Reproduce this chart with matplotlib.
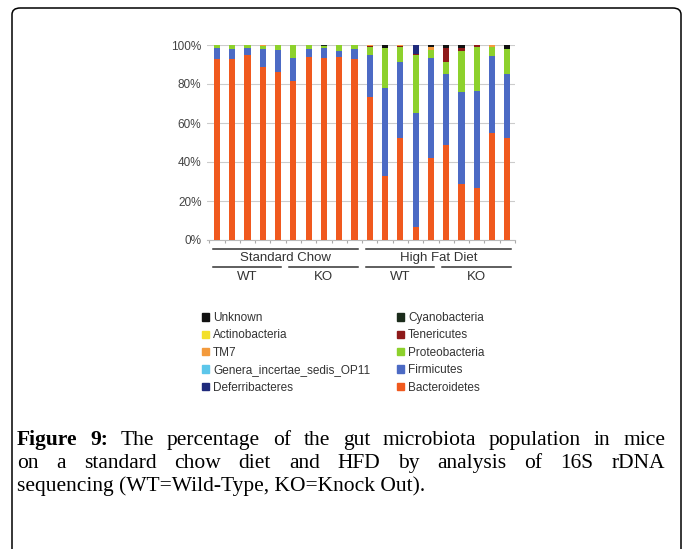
import matplotlib
matplotlib.use('Agg')
import matplotlib.pyplot as plt
from matplotlib.patches import FancyBboxPatch, Patch
import numpy as np

# valores (porcentaje por barra, 20 ratones)
bacteroidetes = [92.8, 92.6, 94.9, 88.9, 86.3, 81.6, 94.0, 93.1, 94.0, 92.6,
                 73.4, 32.8, 52.5, 6.5, 42.0, 48.5, 28.5, 26.8, 54.9, 52.5]
firmicutes = [5.5, 5.2, 3.4, 9.0, 11.1, 11.5, 3.8, 5.2, 3.0, 5.2,
              21.5, 45.4, 38.6, 58.7, 51.1, 36.4, 47.5, 49.5, 39.6, 32.4]
proteobacteria = [1.7, 2.2, 1.7, 1.6, 2.6, 6.9, 2.2, 1.2, 3.0, 2.2,
                  3.9, 20.1, 7.7, 29.7, 4.3, 6.5, 21.1, 22.5, 4.6, 13.1]
tenericutes = [0, 0, 0, 0, 0, 0, 0, 0, 0, 0,
               0.5, 0, 0.6, 0.5, 0, 6.9, 1.2, 1.2, 0, 0]
cyanobacteria = [0, 0, 0, 0, 0, 0, 0, 0.5, 0, 0,
                 0, 0, 0, 0, 0, 0, 0, 0, 0, 0]
deferribacteres = [0, 0, 0, 0, 0, 0, 0, 0, 0, 0,
                   0, 0, 0, 4.6, 0, 0, 0, 0, 0, 0]
genera_op11 = [0] * 20
tm7 = [0, 0, 0, 0.5, 0, 0, 0, 0, 0, 0,
       0.7, 0, 0.6, 0, 1.6, 0, 0, 0, 0.9, 0]
actinobacteria = [0] * 20
unknown = [0, 0, 0, 0, 0, 0, 0, 0, 0, 0,
           0, 1.7, 0, 0, 1.0, 1.7, 1.7, 0, 0, 2.0]

nombres = ['Bacteroidetes', 'Firmicutes', 'Proteobacteria', 'Tenericutes',
           'Cyanobacteria', 'Deferribacteres', 'Genera_incertae_sedis_OP11',
           'TM7', 'Actinobacteria', 'Unknown']
series = [bacteroidetes, firmicutes, proteobacteria, tenericutes, cyanobacteria,
          deferribacteres, genera_op11, tm7, actinobacteria, unknown]
colores = ['#F0591E', '#4C6AC4', '#8DD12C', '#8E1A1A', '#1B2C1B',
           '#1F2A7C', '#5CC6EA', '#F39A3C', '#F3E02A', '#111111']

dieta = ['Standard Chow', 'High Fat Diet']
genotipo = ['WT', 'KO', 'WT', 'KO']
ticks_y = [0, 20, 40, 60, 80, 100]

W, H = 683, 549
fig = plt.figure(figsize=(W / 100, H / 100), dpi=100)
sans = 'Liberation Sans'

def px(x, y, w, h):
    return [x / W, 1 - (y + h) / H, w / W, h / H]

# marco redondeado
marco = FancyBboxPatch((12 / W, -0.05), (681 - 12) / W, (549 - 8) / H + 0.05,
                       boxstyle='round,pad=0,rounding_size=0.012',
                       transform=fig.transFigure, fill=False, ec='black', lw=1.1)
fig.patches.append(marco)

ax = fig.add_axes(px(207, 45, 308, 195))
n = len(bacteroidetes)
x = np.arange(n)
base = np.zeros(n)
for vals, col in zip(series, colores):
    ax.bar(x, vals, 0.4, bottom=base, color=col, zorder=3)
    base += np.array(vals)

ax.set_xlim(-0.65, 19.5)
ax.set_ylim(0, 100)
ax.set_yticks(ticks_y)
ax.set_yticklabels([f'{t}%' for t in ticks_y], fontsize=8.5, color='#444444',
                   family=sans)
ax.yaxis.grid(True, color='#cccccc', lw=0.8, zorder=0)
ax.tick_params(axis='y', length=0, pad=4)
ax.set_xticks(np.arange(-0.5, 19.6, 1))
ax.set_xticklabels([])
ax.tick_params(axis='x', length=2, color='#aaaaaa')
for s in ['top', 'right', 'left']:
    ax.spines[s].set_visible(False)
ax.spines['bottom'].set_color('#bbbbbb')

# lineas y etiquetas de grupos
tr = ax.get_xaxis_transform()
def grupo(i0, i1, y_linea, y_texto, texto):
    ax.plot([i0 - 0.27, i1 + 0.22], [y_linea, y_linea], color='#333333', lw=1.1,
            transform=tr, clip_on=False)
    ax.text((i0 + i1) / 2, y_texto, texto, transform=tr, ha='center', va='center',
            fontsize=9.5, color='#333333', family=sans)

grupo(0, 9, -0.046, -0.092, dieta[0])
grupo(10, 19, -0.046, -0.092, dieta[1])
for k in range(4):
    i0 = k * 5
    grupo(i0, i0 + 4, -0.137, -0.19, genotipo[k])

# leyenda en dos columnas
orden = list(range(len(nombres)))[::-1]
manijas = [Patch(color=colores[i], label=nombres[i]) for i in orden]
for c, xl in enumerate([202, 397]):
    fig.legend(handles=manijas[c * 5:(c + 1) * 5], loc='upper left',
               bbox_to_anchor=(xl / W, 1 - 312 / H), frameon=False,
               handlelength=0.6, handleheight=0.6,
               handletextpad=0.35, labelspacing=0.46, borderpad=0,
               borderaxespad=0, labelcolor='#333333',
               prop={'family': sans, 'size': 8.5})

# pie de figura justificado
fs = 15.5
serif = 'Liberation Serif'
renderer = fig.canvas.get_renderer()

def linea_justificada(palabras, y, x0, x1):
    objs = []
    total = 0
    for w, negrita in palabras:
        t = fig.text(0, 1 - y / H, w, fontsize=fs, family=serif, va='baseline',
                     fontweight='bold' if negrita else 'normal')
        ancho = t.get_window_extent(renderer).width
        objs.append((t, ancho))
        total += ancho
    hueco = (x1 - x0 - total) / (len(objs) - 1)
    pos = x0
    for t, ancho in objs:
        t.set_x(pos / W)
        pos += ancho + hueco

l1 = [('Figure', True), ('9:', True)] + [(p, False) for p in
      'The percentage of the gut microbiota population in mice'.split()]
l2 = [(p, False) for p in 'on a standard chow diet and HFD by analysis of 16S rDNA'.split()]
linea_justificada(l1, 445, 17, 665)
linea_justificada(l2, 468, 17, 665)
fig.text(17 / W, 1 - 491 / H, 'sequencing (WT=Wild-Type, KO=Knock Out).',
         fontsize=fs, family=serif, va='baseline')

fig.savefig('out.png', dpi=100)
